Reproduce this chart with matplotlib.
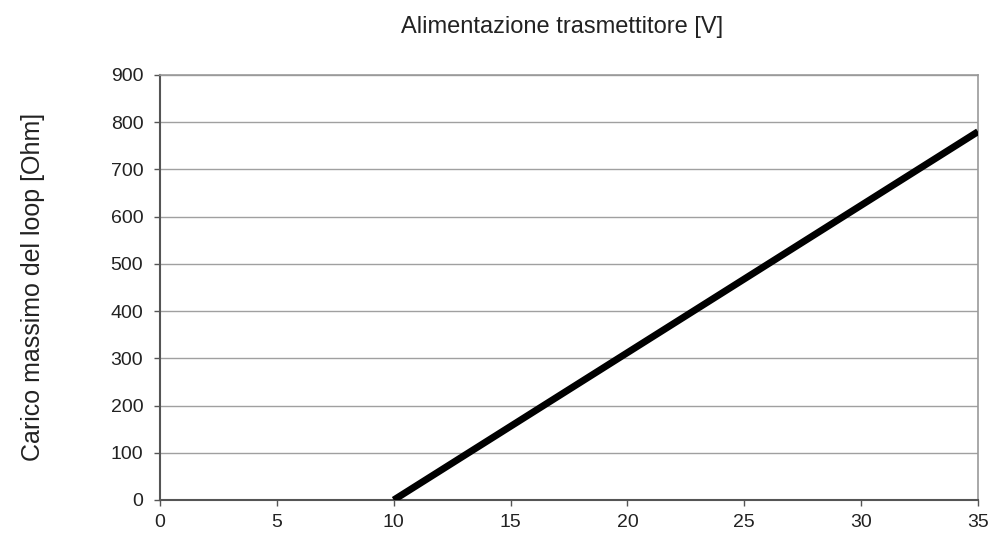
import matplotlib.pyplot as plt

plt.rcParams['font.family'] = ['Liberation Sans', 'DejaVu Sans']

# ---- Data ----
voltage = [10, 35]        # Alimentazione trasmettitore [V]
max_load = [0, 780]       # Carico massimo del loop [Ohm]
x_ticks = [0, 5, 10, 15, 20, 25, 30, 35]
y_ticks = [0, 100, 200, 300, 400, 500, 600, 700, 800, 900]

# ---- Plotting ----
fig = plt.figure(figsize=(9.92, 5.34), dpi=100)
ax = fig.add_axes([0.1613, 0.0637, 0.8246, 0.7959])

ax.plot(voltage, max_load, color='black', linewidth=5, solid_capstyle='butt', zorder=3)

ax.set_xlim(0, 35)
ax.set_ylim(0, 900)
ax.set_xticks(x_ticks)
ax.set_yticks(y_ticks)
ax.tick_params(axis='both', labelsize=14, length=4, color='#555555', width=1,
               labelcolor='#222222')
ax.tick_params(axis='y', pad=8)
ax.tick_params(axis='x', pad=6)

ax.yaxis.grid(True, color='#a0a0a0', linewidth=1)
ax.set_axisbelow(True)

for side in ['left', 'bottom']:
    ax.spines[side].set_color('#555555')
    ax.spines[side].set_linewidth(1.5)
for side in ['top', 'right']:
    ax.spines[side].set_color('#999999')
    ax.spines[side].set_linewidth(1.2)

fig.text(0.567, 0.95, 'Alimentazione trasmettitore [V]', ha='center', va='center',
         fontsize=17, color='#222222')
fig.text(0.033, 0.463, 'Carico massimo del loop [Ohm]', ha='center', va='center',
         rotation=90, fontsize=18, color='#222222')

plt.savefig('out.png', dpi=100)
